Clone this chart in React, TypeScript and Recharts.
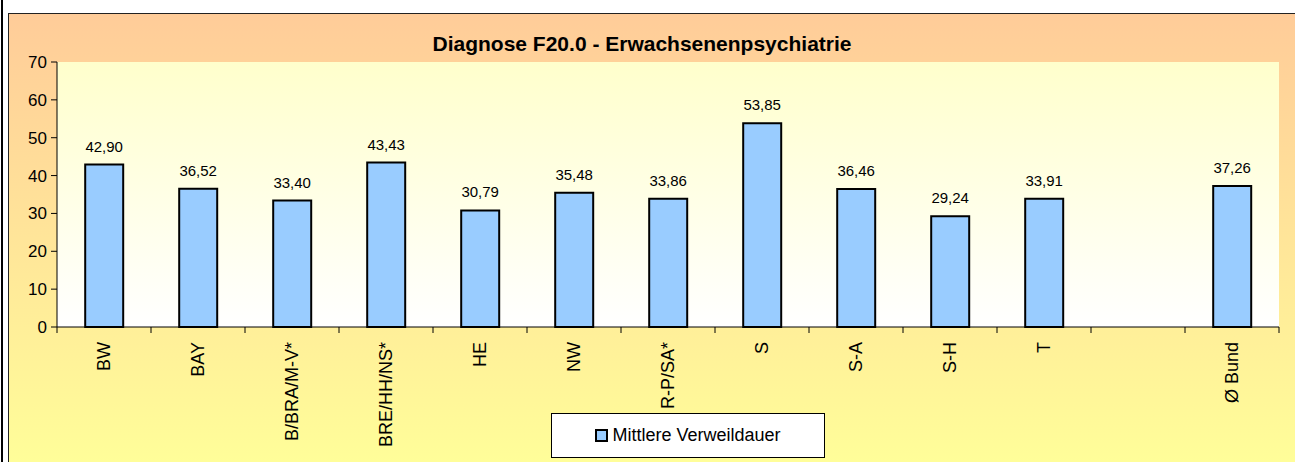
import React from 'react';
import {
  BarChart,
  Bar,
  XAxis,
  YAxis,
  CartesianGrid,
  LabelList,
  Legend
} from 'recharts';

// categories (the empty one is the gap before the federal average)
const regions = ['BW', 'BAY', 'B/BRA/M-V*', 'BRE/HH/NS*', 'HE', 'NW', 'R-P/SA*', 'S', 'S-A', 'S-H', 'T', '', 'Ø Bund'];
const meanStay = [42.9, 36.52, 33.4, 43.43, 30.79, 35.48, 33.86, 53.85, 36.46, 29.24, 33.91, null, 37.26];
const yTicks = [0, 10, 20, 30, 40, 50, 60, 70];

const seriesName = 'Mittlere Verweildauer';
const title = 'Diagnose F20.0 - Erwachsenenpsychiatrie';

const data = regions.map((region, i) => ({ region, value: meanStay[i] }));

const FONT = "Arial, 'Liberation Sans', sans-serif";

const formatValue = (v: any) =>
  v === null || v === undefined ? '' : Number(v).toFixed(2).replace('.', ',');

const RegionTick = (props: any) => {
  const { x, y, payload, index, visibleTicksCount } = props;
  const half = payload.offset || 0;
  const isLast = index === visibleTicksCount - 1;
  return (
    <g>
      <line x1={x - half} x2={x - half} y1={y} y2={y + 6} stroke="#000" />
      {isLast && <line x1={x + half} x2={x + half} y1={y} y2={y + 6} stroke="#000" />}
      <text
        x={x}
        y={y + 15}
        transform={`rotate(-90, ${x}, ${y + 15})`}
        textAnchor="end"
        dominantBaseline="central"
        fontSize={18}
        fontFamily={FONT}
        fill="#000"
      >
        {payload.value}
      </text>
    </g>
  );
};

const LegendBox = () => (
  <div
    style={{
      width: 274,
      height: 45,
      boxSizing: 'border-box',
      border: '1px solid #000',
      background: '#fff',
      display: 'flex',
      alignItems: 'center',
      justifyContent: 'center',
      fontFamily: FONT,
      fontSize: 18,
      color: '#000'
    }}
  >
    <span
      style={{
        display: 'inline-block',
        width: 13,
        height: 13,
        boxSizing: 'border-box',
        background: '#99CCFF',
        border: '2px solid #000',
        marginRight: 4
      }}
    />
    {seriesName}
  </div>
);

export default function App() {
  return (
    <div style={{ position: 'fixed', left: 0, top: 0, width: 1295, height: 462, background: '#fff', overflow: 'hidden' }}>
      <div style={{ position: 'absolute', left: 1, top: 0, width: 2, height: 462, background: '#000' }} />
      <div
        style={{
          position: 'absolute',
          left: 8,
          top: 13,
          right: -10,
          bottom: -10,
          borderLeft: '1px solid #222',
          borderTop: '1px solid #222',
          background: 'linear-gradient(to bottom, #FFCC99 0%, #FFFF99 100%)'
        }}
      />
      <div
        style={{
          position: 'absolute',
          left: 9,
          top: 35,
          width: 1266,
          textAlign: 'center',
          fontFamily: FONT,
          fontWeight: 'bold',
          fontSize: 21,
          lineHeight: '18px',
          color: '#000'
        }}
      >
        {title}
      </div>
      <div style={{ position: 'absolute', left: 9, top: 14 }}>
        <BarChart
          width={1276}
          height={448}
          data={data}
          margin={{ top: 48, right: 6, left: 0, bottom: 0 }}
          barCategoryGap="30%"
        >
          <defs>
            <linearGradient id="plotBg" x1="0" y1="0" x2="0" y2="1">
              <stop offset="0%" stopColor="#FFFFCC" />
              <stop offset="100%" stopColor="#FFFFFF" />
            </linearGradient>
          </defs>
          <CartesianGrid horizontal={false} vertical={false} fill="url(#plotBg)" />
          <XAxis
            xAxisId="top"
            orientation="top"
            dataKey="region"
            height={0}
            tick={false}
            tickLine={false}
            axisLine={{ stroke: '#808080', strokeWidth: 2 }}
          />
          <YAxis
            yAxisId="right"
            orientation="right"
            width={0}
            domain={[0, 70]}
            tick={false}
            tickLine={false}
            axisLine={{ stroke: '#808080', strokeWidth: 2 }}
          />
          <XAxis
            dataKey="region"
            height={135}
            interval={0}
            tickSize={0}
            tickMargin={0}
            tickLine={false}
            axisLine={{ stroke: '#000' }}
            tick={<RegionTick />}
          />
          <YAxis
            width={48}
            domain={[0, 70]}
            ticks={yTicks}
            interval={0}
            tickSize={6}
            tickMargin={4}
            axisLine={{ stroke: '#000' }}
            tickLine={{ stroke: '#000' }}
            tick={{ fill: '#000', fontSize: 17, fontFamily: FONT }}
          />
          <Legend
            layout="horizontal"
            verticalAlign="middle"
            align="center"
            wrapperStyle={{ left: 542, top: 399, width: 274, height: 45 }}
            content={() => <LegendBox />}
          />
          <Bar
            dataKey="value"
            name={seriesName}
            fill="#99CCFF"
            stroke="#000"
            strokeWidth={2}
            isAnimationActive={false}
          >
            <LabelList
              dataKey="value"
              position="top"
              offset={13}
              formatter={formatValue}
              style={{ fontSize: 15, fontFamily: FONT, fill: '#000' }}
            />
          </Bar>
        </BarChart>
      </div>
    </div>
  );
}
